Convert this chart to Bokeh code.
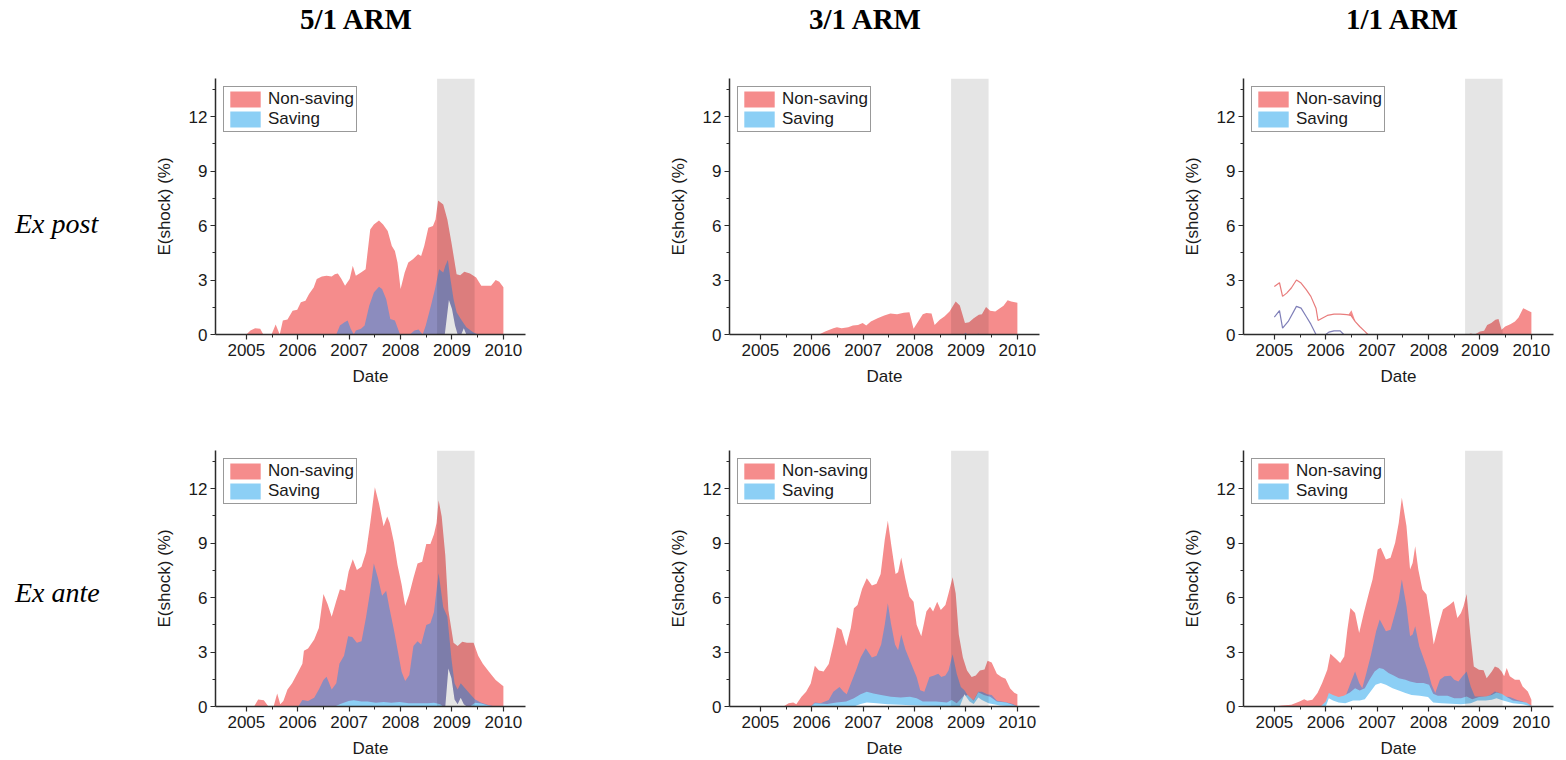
from bokeh.plotting import figure
from bokeh.models import Range1d, FixedTicker, BoxAnnotation, Legend, LegendItem, Div, Spacer
from bokeh.layouts import row, column
from bokeh.embed import file_html
from bokeh.resources import INLINE

# ---------------- labels / ticks ----------------
COLUMN_TITLES = ["5/1 ARM", "3/1 ARM", "1/1 ARM"]
ROW_TITLES = ["Ex post", "Ex ante"]
SERIES_LABELS = ["Non-saving", "Saving"]
X_LABEL = "Date"
Y_LABEL = "E(shock) (%)"
YEAR_TICKS = [2005, 2006, 2007, 2008, 2009, 2010]
YEAR_MINOR_TICKS = [2005.5, 2006.5, 2007.5, 2008.5, 2009.5]
Y_TICKS = [0, 3, 6, 9, 12]
Y_MINOR_TICKS = [1.5, 4.5, 7.5, 10.5, 13.5]
RECESSION = [2008.71, 2009.44]

# ---------------- data: (date, value) ----------------
# NS = non-saving upper edge, OV = overlap upper edge, SV = saving upper edge,
# GAP = unfilled region under the saving band

# 5/1 ARM, ex post
EP51_NS = [(2005.0, 0), (2005.08, 0.22), (2005.17, 0.35), (2005.27, 0.31), (2005.33, 0), (2005.49, 0),
           (2005.57, 0.55), (2005.65, 0), (2005.71, 0.77), (2005.8, 0.82), (2005.9, 1.31), (2005.99, 1.37),
           (2006.06, 1.77), (2006.15, 1.86), (2006.22, 2.23), (2006.31, 2.59), (2006.37, 3.05), (2006.47, 3.2),
           (2006.56, 3.23), (2006.66, 3.2), (2006.72, 3.32), (2006.78, 3.36), (2006.85, 3.05), (2006.92, 2.68),
           (2007.01, 3.05), (2007.07, 3.78), (2007.13, 3.23), (2007.23, 3.42), (2007.32, 3.6), (2007.41, 5.79),
           (2007.48, 6.06), (2007.58, 6.28), (2007.66, 6.06), (2007.75, 5.7), (2007.83, 4.88), (2007.89, 4.6),
           (2007.94, 3.96), (2008.0, 2.5), (2008.08, 3.42), (2008.15, 3.96), (2008.24, 4.15), (2008.34, 4.42),
           (2008.4, 4.33), (2008.46, 4.88), (2008.54, 5.88), (2008.63, 5.97), (2008.68, 6.34), (2008.73, 7.38),
           (2008.83, 7.16), (2008.91, 6.34), (2008.99, 5.06), (2009.09, 3.32), (2009.16, 3.27), (2009.24, 3.45),
           (2009.35, 3.36), (2009.47, 3.14), (2009.57, 2.68), (2009.76, 2.68), (2009.85, 3.0), (2009.92, 2.9),
           (2010.0, 2.6)]
EP51_OV = [(2006.75, 0), (2006.82, 0.49), (2006.91, 0.68), (2006.97, 0.77), (2007.03, 0.31), (2007.09, 0),
           (2007.13, 0.22), (2007.23, 0.31), (2007.3, 0.49), (2007.39, 1.59), (2007.48, 2.32), (2007.58, 2.63),
           (2007.64, 2.5), (2007.72, 1.95), (2007.8, 0.86), (2007.89, 0.77), (2007.99, 0), (2008.18, 0),
           (2008.27, 0.22), (2008.35, 0.27), (2008.43, 0), (2008.49, 0.49), (2008.59, 1.59), (2008.67, 2.5),
           (2008.75, 3.6), (2008.83, 3.42), (2008.87, 3.78), (2008.92, 4.11), (2008.97, 3.05), (2009.03, 1.95),
           (2009.09, 1.22), (2009.19, 0.77), (2009.28, 0.4), (2009.41, 0.13), (2009.51, 0)]
EP51_SV = [(2005.0, 0), (2010.0, 0)]
EP51_GAP = [(2008.86, 0), (2008.94, 1.9), (2009.0, 1.4), (2009.06, 0.5), (2009.11, 0), (2009.18, 0),
            (2009.23, 0.35), (2009.28, 0)]

# 3/1 ARM, ex post
EP31_NS = [(2006.14, 0), (2006.26, 0.17), (2006.42, 0.35), (2006.49, 0.4), (2006.58, 0.35), (2006.71, 0.4),
           (2006.8, 0.5), (2006.9, 0.53), (2006.99, 0.63), (2007.06, 0.5), (2007.15, 0.72), (2007.28, 0.9),
           (2007.41, 1.05), (2007.53, 1.16), (2007.66, 1.12), (2007.79, 1.2), (2007.9, 1.23), (2007.98, 0.31),
           (2008.07, 0.72), (2008.16, 1.12), (2008.23, 1.18), (2008.33, 1.16), (2008.39, 0.53), (2008.49, 0.81),
           (2008.58, 0.99), (2008.68, 1.27), (2008.8, 1.82), (2008.88, 1.6), (2008.98, 0.63), (2009.06, 0.68),
           (2009.15, 0.9), (2009.25, 1.09), (2009.31, 1.12), (2009.39, 1.51), (2009.47, 1.31), (2009.57, 1.27),
           (2009.66, 1.45), (2009.73, 1.58), (2009.81, 1.88), (2009.88, 1.82), (2010.0, 1.75)]
EP31_OV = [(2008.96, 0), (2008.99, 0.1), (2009.03, 0), (2009.21, 0), (2009.24, 0.06), (2009.27, 0)]
EP31_SV = [(2005.0, 0), (2010.0, 0)]
EP31_GAP = [(2005.0, 0), (2010.0, 0)]

# 1/1 ARM, ex post (early part is a collapsed band drawn as a line)
EP11_NS_LINE = [(2005.0, 2.65), (2005.1, 2.85), (2005.16, 2.1), (2005.24, 2.28), (2005.33, 2.56), (2005.43, 3.0),
                (2005.52, 2.83), (2005.62, 2.47), (2005.71, 2.1), (2005.81, 1.45), (2005.85, 0.77), (2005.93, 0.9),
                (2006.03, 1.05), (2006.16, 1.12), (2006.28, 1.12), (2006.41, 1.09), (2006.49, 1.05), (2006.57, 0.72),
                (2006.66, 0.44), (2006.76, 0.17), (2006.82, 0)]
EP11_SV_LINE = [(2005.0, 0.96), (2005.1, 1.31), (2005.16, 0.35), (2005.27, 0.72), (2005.43, 1.55), (2005.52, 1.45),
                (2005.62, 0.99), (2005.71, 0.57), (2005.81, 0), (2006.0, 0), (2006.06, 0.13), (2006.16, 0.2),
                (2006.28, 0.2), (2006.35, 0)]
EP11_NS_PATCH_X = [2006.44, 2006.5, 2006.58]
EP11_NS_PATCH_LO = [1.09, 1.02, 0.7]
EP11_NS_PATCH_HI = [1.09, 1.33, 0.7]
EP11_NS = [(2008.76, 0), (2008.82, 0.05), (2008.9, 0), (2009.0, 0.17), (2009.08, 0.2), (2009.14, 0.53),
           (2009.22, 0.63), (2009.3, 0.81), (2009.36, 0.85), (2009.42, 0.26), (2009.49, 0.44), (2009.59, 0.57),
           (2009.68, 0.72), (2009.75, 0.94), (2009.84, 1.45), (2009.92, 1.34), (2010.0, 1.23)]
EP11_OV = [(2005.0, 0), (2010.0, 0)]
EP11_SV = [(2005.0, 0), (2010.0, 0)]
EP11_GAP = [(2005.0, 0), (2010.0, 0)]

# 5/1 ARM, ex ante
EA51_NS = [(2005.15, 0), (2005.23, 0.39), (2005.34, 0.34), (2005.43, 0), (2005.53, 0), (2005.6, 0.71),
           (2005.66, 0.12), (2005.72, 0.3), (2005.8, 0.93), (2005.89, 1.28), (2006.01, 1.91), (2006.09, 2.35),
           (2006.12, 3.07), (2006.2, 3.19), (2006.32, 3.69), (2006.41, 4.32), (2006.5, 6.19), (2006.58, 5.65),
           (2006.66, 4.94), (2006.75, 5.83), (2006.82, 6.46), (2006.92, 6.37), (2006.99, 7.44), (2007.07, 8.11),
           (2007.15, 7.52), (2007.24, 7.7), (2007.33, 8.51), (2007.41, 10.11), (2007.5, 12.07), (2007.58, 11.18),
           (2007.67, 9.93), (2007.74, 10.47), (2007.79, 10.11), (2007.87, 9.04), (2007.94, 7.79), (2008.02, 6.72),
           (2008.09, 5.53), (2008.17, 6.19), (2008.25, 7.08), (2008.33, 7.88), (2008.42, 7.97), (2008.5, 8.95),
           (2008.58, 8.95), (2008.65, 9.49), (2008.7, 10.11), (2008.74, 11.36), (2008.8, 10.47), (2008.87, 8.33),
           (2008.93, 5.3), (2009.03, 3.51), (2009.11, 3.33), (2009.2, 3.57), (2009.29, 3.51), (2009.42, 3.51),
           (2009.51, 2.8), (2009.6, 2.35), (2009.72, 1.91), (2009.85, 1.46), (2010.0, 1.11)]
EA51_OV = [(2006.01, 0), (2006.09, 0.36), (2006.2, 0.3), (2006.32, 0.48), (2006.41, 0.93), (2006.5, 1.46),
           (2006.56, 1.64), (2006.66, 0.93), (2006.75, 1.28), (2006.81, 2.35), (2006.9, 2.8), (2006.98, 3.87),
           (2007.06, 3.83), (2007.15, 3.51), (2007.24, 3.6), (2007.33, 4.94), (2007.41, 6.37), (2007.48, 7.88),
           (2007.56, 7.08), (2007.64, 6.1), (2007.72, 6.37), (2007.78, 5.47), (2007.87, 4.23), (2007.94, 3.16),
           (2008.02, 1.91), (2008.09, 1.41), (2008.17, 1.73), (2008.25, 3.33), (2008.33, 3.6), (2008.4, 3.42),
           (2008.5, 4.49), (2008.58, 4.58), (2008.65, 5.21), (2008.74, 7.35), (2008.83, 5.47), (2008.91, 4.94),
           (2008.99, 2.62), (2009.05, 1.28), (2009.11, 0.93), (2009.17, 1.28), (2009.25, 1.02), (2009.36, 0.66),
           (2009.45, 0.39), (2009.57, 0.21), (2009.72, 0.07), (2009.85, 0)]
EA51_SV = [(2006.72, 0), (2006.84, 0.15), (2006.99, 0.3), (2007.09, 0.34), (2007.24, 0.27), (2007.36, 0.27),
           (2007.52, 0.21), (2007.67, 0.25), (2007.82, 0.21), (2007.98, 0.25), (2008.16, 0.18), (2008.34, 0.18),
           (2008.53, 0.18), (2008.65, 0.21), (2008.77, 0.12), (2008.83, 0), (2009.35, 0), (2009.45, 0.21),
           (2009.57, 0.16), (2009.69, 0.07), (2009.82, 0)]
EA51_GAP = [(2008.87, 0), (2008.93, 2.09), (2008.99, 1.55), (2009.05, 0.39), (2009.11, 0.12), (2009.17, 0.48),
            (2009.23, 0.12), (2009.29, 0)]

# 3/1 ARM, ex ante
EA31_NS = [(2005.45, 0), (2005.55, 0.18), (2005.64, 0.22), (2005.7, 0.13), (2005.8, 0.54), (2005.89, 0.81),
           (2005.98, 1.26), (2006.06, 2.25), (2006.14, 1.98), (2006.23, 1.93), (2006.33, 2.34), (2006.42, 3.42),
           (2006.49, 4.36), (2006.58, 4.23), (2006.67, 3.33), (2006.76, 4.32), (2006.82, 5.41), (2006.89, 5.59),
           (2006.98, 6.49), (2007.07, 7.06), (2007.17, 6.67), (2007.26, 6.76), (2007.34, 7.3), (2007.42, 9.19),
           (2007.48, 10.23), (2007.55, 8.83), (2007.63, 7.3), (2007.68, 7.39), (2007.74, 8.2), (2007.82, 7.03),
           (2007.9, 6.04), (2007.98, 5.77), (2008.04, 4.5), (2008.13, 3.87), (2008.23, 5.23), (2008.3, 5.5),
           (2008.36, 5.23), (2008.44, 5.77), (2008.51, 5.32), (2008.6, 5.59), (2008.66, 6.22), (2008.74, 7.12),
           (2008.8, 6.22), (2008.86, 3.96), (2008.94, 2.7), (2009.02, 1.98), (2009.11, 1.62), (2009.19, 1.71),
           (2009.27, 1.98), (2009.36, 2.04), (2009.42, 2.52), (2009.5, 2.43), (2009.6, 1.8), (2009.69, 1.62),
           (2009.77, 1.53), (2009.86, 0.99), (2009.94, 0.76), (2010.0, 0.68)]
EA31_OV = [(2005.98, 0), (2006.06, 0.22), (2006.17, 0.18), (2006.33, 0.36), (2006.42, 0.81), (2006.54, 1.08),
           (2006.62, 0.81), (2006.68, 0.68), (2006.76, 1.26), (2006.86, 1.98), (2006.95, 2.7), (2007.05, 3.21),
           (2007.17, 2.7), (2007.26, 2.79), (2007.35, 3.42), (2007.42, 4.5), (2007.48, 5.68), (2007.54, 4.59),
           (2007.62, 3.42), (2007.68, 3.1), (2007.74, 3.96), (2007.82, 3.15), (2007.91, 2.52), (2008.04, 1.62),
           (2008.11, 0.9), (2008.19, 0.81), (2008.29, 1.62), (2008.38, 1.71), (2008.46, 1.8), (2008.52, 1.62),
           (2008.6, 1.71), (2008.66, 1.98), (2008.74, 2.88), (2008.82, 1.8), (2008.9, 1.08), (2008.97, 0.9),
           (2009.07, 0.45), (2009.15, 0.36), (2009.24, 0.81), (2009.31, 0.81), (2009.41, 0.68), (2009.5, 0.63),
           (2009.6, 0.32), (2009.75, 0.25), (2009.91, 0.14), (2010.0, 0)]
EA31_SV = [(2005.98, 0), (2006.06, 0.18), (2006.3, 0.14), (2006.48, 0.22), (2006.67, 0.27), (2006.82, 0.45),
           (2006.95, 0.68), (2007.07, 0.81), (2007.2, 0.72), (2007.35, 0.63), (2007.54, 0.54), (2007.73, 0.5),
           (2007.91, 0.54), (2008.04, 0.45), (2008.16, 0.27), (2008.42, 0.27), (2008.63, 0.22), (2008.72, 0.36),
           (2008.82, 0.18), (2008.94, 0.54), (2009.03, 0.63), (2009.15, 0.32), (2009.24, 0.78), (2009.35, 0.63),
           (2009.47, 0.54), (2009.6, 0.27), (2009.78, 0.22), (2009.91, 0.09), (2010.0, 0)]
EA31_GAP = [(2006.82, 0), (2006.95, 0.14), (2007.07, 0.22), (2007.26, 0.18), (2007.48, 0.13), (2007.73, 0.09),
            (2008.04, 0.05), (2008.88, 0), (2008.97, 0.68), (2009.07, 0.27), (2009.15, 0.14), (2009.24, 0.5),
            (2009.31, 0.36), (2009.44, 0.18), (2009.66, 0.05), (2009.91, 0)]

# 1/1 ARM, ex ante
EA11_NS = [(2005.0, 0), (2005.14, 0.06), (2005.33, 0.09), (2005.49, 0.28), (2005.58, 0.4), (2005.64, 0.31),
           (2005.74, 0.37), (2005.84, 0.74), (2005.93, 1.29), (2006.03, 2.02), (2006.09, 2.91), (2006.18, 2.67),
           (2006.28, 2.39), (2006.36, 2.76), (2006.42, 4.23), (2006.48, 5.43), (2006.57, 5.15), (2006.65, 4.05),
           (2006.74, 5.15), (2006.84, 6.26), (2006.91, 6.99), (2007.01, 8.65), (2007.07, 8.74), (2007.17, 8.1),
           (2007.26, 8.19), (2007.35, 9.02), (2007.42, 10.12), (2007.48, 11.5), (2007.57, 9.94), (2007.64, 7.55),
           (2007.69, 7.91), (2007.74, 8.83), (2007.8, 7.55), (2007.88, 6.44), (2007.96, 6.17), (2008.03, 4.88),
           (2008.1, 3.41), (2008.18, 4.33), (2008.28, 5.34), (2008.41, 5.61), (2008.49, 5.8), (2008.56, 4.88),
           (2008.63, 5.15), (2008.68, 5.52), (2008.74, 6.2), (2008.81, 4.05), (2008.88, 2.21), (2008.98, 2.02),
           (2009.07, 1.99), (2009.13, 1.56), (2009.23, 1.93), (2009.29, 2.21), (2009.36, 2.12), (2009.42, 1.93),
           (2009.47, 1.66), (2009.52, 2.12), (2009.58, 1.66), (2009.68, 1.47), (2009.77, 1.47), (2009.83, 1.1),
           (2009.93, 0.83), (2010.0, 0.37)]
EA11_OV = [(2006.31, 0), (2006.37, 0.46), (2006.47, 1.2), (2006.57, 1.93), (2006.65, 1.29), (2006.71, 1.01),
           (2006.79, 1.84), (2006.88, 2.85), (2006.98, 4.14), (2007.05, 4.79), (2007.17, 4.14), (2007.26, 4.23),
           (2007.35, 5.15), (2007.42, 5.89), (2007.48, 6.99), (2007.57, 5.52), (2007.64, 3.87), (2007.69, 3.96),
           (2007.74, 4.42), (2007.82, 3.31), (2007.9, 2.67), (2007.98, 2.02), (2008.06, 1.2), (2008.13, 0.74),
           (2008.22, 1.47), (2008.31, 1.66), (2008.43, 1.69), (2008.5, 1.47), (2008.58, 1.38), (2008.66, 1.66),
           (2008.74, 1.93), (2008.82, 1.1), (2008.9, 0.55), (2009.01, 0.55), (2009.11, 0.52), (2009.2, 0.64),
           (2009.29, 0.83), (2009.38, 0.74), (2009.47, 0.55), (2009.58, 0.52), (2009.71, 0.37), (2009.83, 0.28),
           (2009.96, 0.09), (2010.0, 0)]
EA11_SV = [(2005.9, 0), (2006.0, 0.28), (2006.06, 0.74), (2006.14, 0.64), (2006.25, 0.52), (2006.35, 0.59),
           (2006.47, 0.77), (2006.57, 1.01), (2006.66, 0.88), (2006.76, 1.01), (2006.85, 1.47), (2006.95, 1.93),
           (2007.04, 2.12), (2007.12, 2.06), (2007.22, 1.84), (2007.33, 1.69), (2007.42, 1.56), (2007.55, 1.47),
           (2007.64, 1.38), (2007.77, 1.29), (2007.9, 1.29), (2008.01, 1.2), (2008.09, 0.7), (2008.18, 0.59),
           (2008.37, 0.59), (2008.5, 0.46), (2008.63, 0.46), (2008.74, 0.55), (2008.85, 0.4), (2008.98, 0.52),
           (2009.11, 0.55), (2009.23, 0.64), (2009.32, 0.77), (2009.42, 0.7), (2009.52, 0.52), (2009.64, 0.33),
           (2009.77, 0.28), (2009.9, 0.22), (2010.0, 0.04)]
EA11_GAP = [(2006.0, 0), (2006.06, 0.46), (2006.14, 0.33), (2006.25, 0.22), (2006.38, 0.18), (2006.53, 0.33),
            (2006.66, 0.33), (2006.76, 0.4), (2006.85, 0.74), (2006.97, 1.2), (2007.07, 1.29), (2007.17, 1.2),
            (2007.3, 1.01), (2007.42, 0.88), (2007.55, 0.74), (2007.67, 0.64), (2007.83, 0.59), (2007.99, 0.52),
            (2008.09, 0.22), (2008.25, 0.18), (2008.44, 0.15), (2008.63, 0.13), (2008.82, 0.18), (2008.95, 0.33),
            (2009.11, 0.33), (2009.23, 0.37), (2009.32, 0.46), (2009.45, 0.33), (2009.64, 0.18), (2009.83, 0.13),
            (2010.0, 0)]

# ---------------- style ----------------
RED = "#F58C8C"
RED_LINE = "#E87C7C"
PURPLE = "#8C8CBE"
PURPLE_LINE = "#7F7FB8"
BLUE = "#8CCFF5"
AXIS = "#2b2b2b"
SANS = "Liberation Sans"
SERIF = "Liberation Serif"

FW, FH = 310, 256
X0, X1 = 2004.4, 2010.43
Y1 = 14.1
LB, RB = 70, 4
GAP_W = 130
LABEL_W = 135


def unzip(pairs):
    return [a for a, _ in pairs], [b for _, b in pairs]


def make_panel(ns, ov, sv, gap, top, ns_line=None, sv_line=None, patch=None):
    p = figure(frame_width=FW, frame_height=FH,
               x_range=Range1d(X0, X1), y_range=Range1d(0, Y1),
               output_backend="svg", toolbar_location=None,
               min_border_left=LB, min_border_right=RB,
               min_border_top=8 if top else 50, min_border_bottom=56,
               background_fill_color="white", border_fill_color="white")
    p.grid.visible = False
    p.outline_line_color = None

    x, y = unzip(ns)
    r_ns = p.varea(x=x, y1=0, y2=y, fill_color=RED)
    if patch is not None:
        px, lo, hi = patch
        p.varea(x=px, y1=lo, y2=hi, fill_color=RED)
    x, y = unzip(ov)
    p.varea(x=x, y1=0, y2=y, fill_color=PURPLE)
    x, y = unzip(sv)
    r_sv = p.varea(x=x, y1=0, y2=y, fill_color=BLUE)
    x, y = unzip(gap)
    p.varea(x=x, y1=0, y2=y, fill_color="white")
    if ns_line is not None:
        x, y = unzip(ns_line)
        p.line(x=x, y=y, line_color=RED_LINE, line_width=1.2)
    if sv_line is not None:
        x, y = unzip(sv_line)
        p.line(x=x, y=y, line_color=PURPLE_LINE, line_width=1.2)

    p.add_layout(BoxAnnotation(left=RECESSION[0], right=RECESSION[1],
                               fill_color="black", fill_alpha=0.1, line_alpha=0))

    for ax in (p.xaxis[0], p.yaxis[0]):
        ax.axis_line_color = AXIS
        ax.axis_line_width = 1.5
        ax.major_tick_line_color = AXIS
        ax.minor_tick_line_color = AXIS
        ax.major_tick_line_width = 1.2
        ax.minor_tick_line_width = 1
        ax.major_tick_in = 0
        ax.major_tick_out = 5
        ax.minor_tick_in = 0
        ax.minor_tick_out = 3
        ax.major_label_text_font = SANS
        ax.major_label_text_font_size = "17px"
        ax.major_label_text_color = "#1a1a1a"
        ax.axis_label_text_font = SANS
        ax.axis_label_text_font_size = "17px"
        ax.axis_label_text_font_style = "normal"
        ax.axis_label_text_color = "#1a1a1a"
    p.xaxis.ticker = FixedTicker(ticks=YEAR_TICKS, minor_ticks=YEAR_MINOR_TICKS)
    p.yaxis.ticker = FixedTicker(ticks=Y_TICKS, minor_ticks=Y_MINOR_TICKS)
    p.xaxis.axis_label = X_LABEL
    p.yaxis.axis_label = Y_LABEL
    p.xaxis.major_label_standoff = 4
    p.yaxis.major_label_standoff = 3
    p.xaxis.axis_label_standoff = 8
    p.yaxis.axis_label_standoff = 12

    legend = Legend(items=[LegendItem(label=SERIES_LABELS[0], renderers=[r_ns]),
                           LegendItem(label=SERIES_LABELS[1], renderers=[r_sv])],
                    location="top_left", margin=8, padding=2, spacing=0,
                    glyph_width=38, glyph_height=20, label_height=20, label_standoff=4,
                    label_text_font=SANS, label_text_font_size="17px", label_text_color="#1a1a1a",
                    border_line_color="#333333", border_line_width=1,
                    background_fill_color="white", background_fill_alpha=1)
    p.add_layout(legend)
    return p


panels_top = [
    make_panel(EP51_NS, EP51_OV, EP51_SV, EP51_GAP, True),
    make_panel(EP31_NS, EP31_OV, EP31_SV, EP31_GAP, True),
    make_panel(EP11_NS, EP11_OV, EP11_SV, EP11_GAP, True, ns_line=EP11_NS_LINE, sv_line=EP11_SV_LINE,
               patch=(EP11_NS_PATCH_X, EP11_NS_PATCH_LO, EP11_NS_PATCH_HI)),
]
panels_bottom = [
    make_panel(EA51_NS, EA51_OV, EA51_SV, EA51_GAP, False),
    make_panel(EA31_NS, EA31_OV, EA31_SV, EA31_GAP, False),
    make_panel(EA11_NS, EA11_OV, EA11_SV, EA11_GAP, False),
]

TOP_H = 8 + FH + 56
BOT_H = 50 + FH + 56
TOTAL_W = LABEL_W + 3 * (LB + FW + RB) + 2 * GAP_W

frame_lefts = [LABEL_W + LB + i * (LB + FW + RB + GAP_W) for i in range(3)]
title_offsets = [-9, -14, 9]
title_items = "".join(
    '<div style="position:absolute;left:%dpx;top:0px;width:240px;text-align:center;line-height:28px;">%s</div>'
    % (fl + FW // 2 + off - 120, t)
    for fl, off, t in zip(frame_lefts, title_offsets, COLUMN_TITLES))
title_div = Div(text='<div style="position:relative;width:%dpx;height:60px;font-family:\'%s\';'
                     'font-weight:bold;font-size:29px;color:#000;">%s</div>' % (TOTAL_W, SERIF, title_items),
                width=TOTAL_W, height=60)


def row_label(text, pad, h):
    return Div(text='<div style="padding-top:%dpx;padding-left:10px;font-family:\'%s\';font-style:italic;'
                    'font-size:28px;line-height:32px;color:#000;white-space:nowrap;">%s</div>' % (pad, SERIF, text),
               width=LABEL_W, height=h)


row_top = row(row_label(ROW_TITLES[0], 133, TOP_H), panels_top[0], Spacer(width=GAP_W, height=TOP_H),
              panels_top[1], Spacer(width=GAP_W, height=TOP_H), panels_top[2])
row_bot = row(row_label(ROW_TITLES[1], 172, BOT_H), panels_bottom[0], Spacer(width=GAP_W, height=BOT_H),
              panels_bottom[1], Spacer(width=GAP_W, height=BOT_H), panels_bottom[2])

layout = column(title_div, row_top, row_bot)

with open("out.html", "w") as f:
    f.write(file_html(layout, INLINE))
